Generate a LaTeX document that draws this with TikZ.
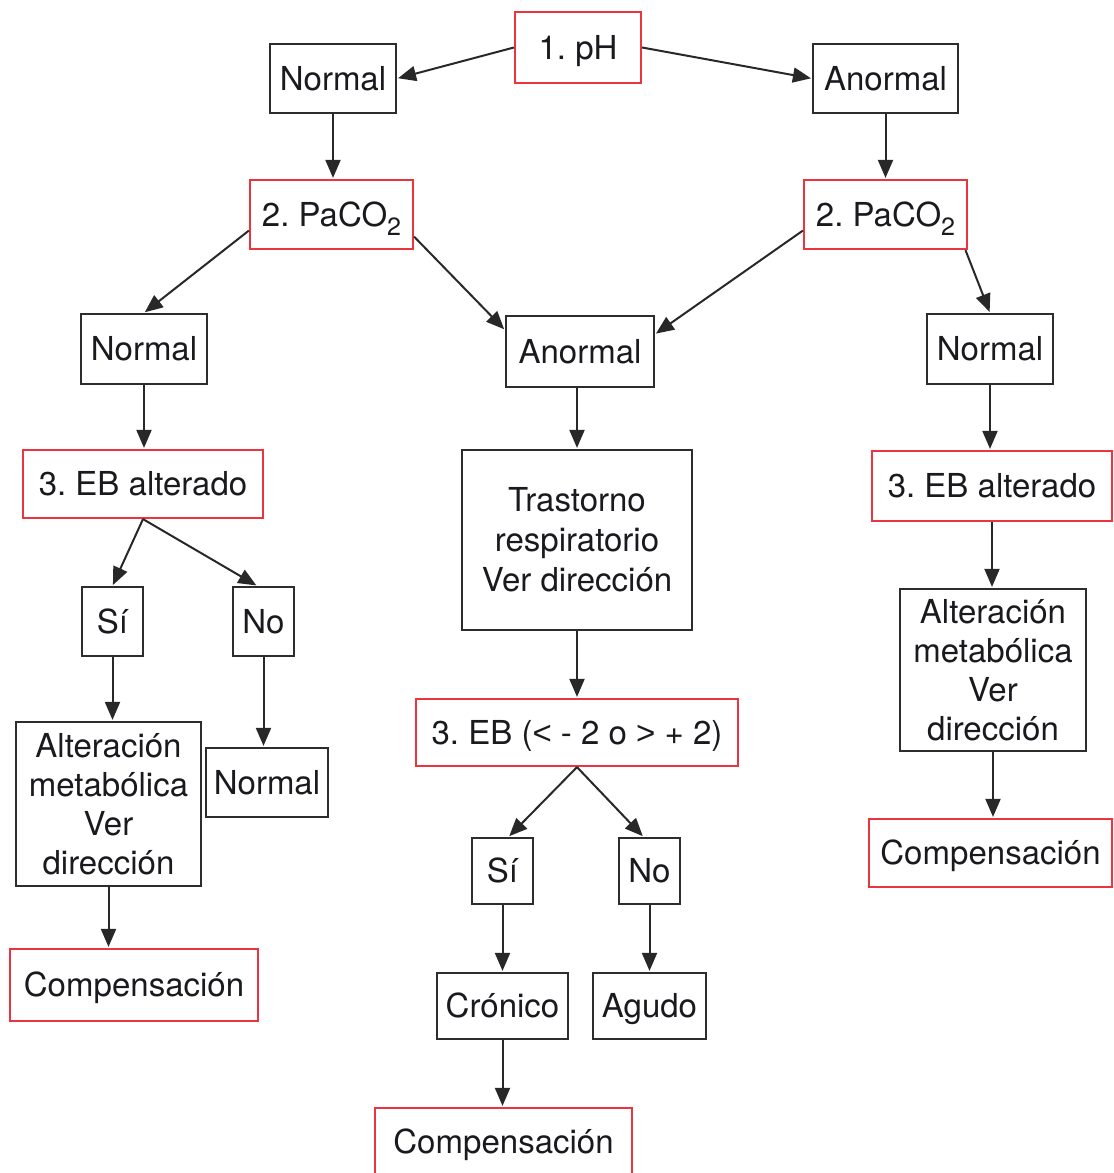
\documentclass[tikz,border=0pt]{standalone}
\usepackage{fontspec}
\setmainfont{TeX Gyre Heros}
\newfontfamily\symfont{Liberation Sans}
\usetikzlibrary{arrows.meta}
\definecolor{boxred}{RGB}{234,52,64}
\definecolor{boxgray}{RGB}{45,45,45}
\definecolor{txt}{RGB}{25,25,30}
\newcommand{\sub}[1]{\raisebox{-0.55ex}{\fontsize{12.5}{12.5}\selectfont #1}}
\frenchspacing
\tikzset{
  base/.style={rectangle, inner sep=0pt, line width=1.1pt, text=txt, align=center,
    font=\fontsize{16.5}{20}\selectfont},
  multi/.style={base, draw=boxgray},
  gbox/.style={base, draw=boxgray, text height=12.8pt, text depth=1pt},
  rbox/.style={base, draw=boxred, text height=12.8pt, text depth=1pt},
  arr/.style={draw=boxgray!90!black, line width=1pt, shorten >=0.5pt,
    -{Triangle[length=9pt,width=7.5pt]}},
}
\begin{document}
\begin{tikzpicture}[x=0.5pt,y=-0.5pt]
\useasboundingbox (0,0) rectangle (1114,1173);
% row 1
\node[rbox, minimum width=63pt, minimum height=35.5pt] (ph) at (578,47.5) {1. pH};
\node[gbox, minimum width=63pt, minimum height=34.5pt] (n1) at (333,78.5) {Normal};
\node[gbox, minimum width=72.5pt, minimum height=34.5pt] (a1) at (885.5,78.5) {Anormal};
% row 2
\node[rbox, minimum width=81.5pt, minimum height=34.5pt] (pL) at (331.5,214.5) {2. PaCO\sub{2}};
\node[rbox, minimum width=81.5pt, minimum height=34.5pt] (pR) at (885.5,214.5) {2. PaCO\sub{2}};
% row 3
\node[gbox, minimum width=63pt, minimum height=35pt] (n2L) at (144,349) {Normal};
\node[gbox, minimum width=74pt, minimum height=35.5pt] (a2) at (580,351.5) {Anormal};
\node[gbox, minimum width=63pt, minimum height=35pt] (n2R) at (990,349) {Normal};
% row 4
\node[rbox, minimum width=120pt, minimum height=34pt] (ebL) at (143,484) {3. EB alterado};
\node[multi, minimum width=115pt, minimum height=90pt] (tr) at (577,540) {Trastorno\\respiratorio\\Ver dirección};
\node[rbox, minimum width=120pt, minimum height=35pt] (ebR) at (992,486) {3. EB alterado};
% left branch
\node[gbox, minimum width=30.5pt, minimum height=34.5pt] (siL) at (112.5,621.5) {Sí};
\node[gbox, minimum width=30.5pt, minimum height=34.5pt] (noL) at (263.5,621.5) {No};
\node[multi, minimum width=92.5pt, minimum height=82pt, font=\fontsize{16.5}{19.5}\selectfont] (altL) at (108.5,804) {Alteración\\metabólica\\Ver\\dirección};
\node[gbox, minimum width=61pt, minimum height=34.5pt] (nLB) at (267,782.5) {Normal};
\node[rbox, minimum width=124pt, minimum height=36pt] (cL) at (134,985) {Compensación};
% middle branch
\node[rbox, minimum width=161pt, minimum height=33.5pt] (ebM) at (577,732.5) {3. EB ({\symfont<} - 2 o {\symfont>} + 2)};
\node[gbox, minimum width=30.5pt, minimum height=33pt] (siM) at (502.5,871) {Sí};
\node[gbox, minimum width=30.5pt, minimum height=33pt] (noM) at (649.5,871) {No};
\node[gbox, minimum width=65.5pt, minimum height=33pt] (cro) at (502.5,1006) {Crónico};
\node[gbox, minimum width=56.5pt, minimum height=33pt] (agu) at (649.5,1006) {Agudo};
\node[rbox, minimum width=128.5pt, minimum height=34pt] (cB) at (503.5,1142) {Compensación};
% right branch
\node[multi, minimum width=93pt, minimum height=81pt, font=\fontsize{16.5}{19.5}\selectfont] (altR) at (993,670) {Alteración\\metabólica\\Ver\\dirección};
\node[rbox, minimum width=121.5pt, minimum height=34pt] (cR) at (990.5,853) {Compensación};
% connectors
\draw[arr] (ph.west) -- (n1.east);
\draw[arr] (ph.east) -- (a1.west);
\draw[arr] (n1.south) -- (n1.south |- pL.north);
\draw[arr] (a1.south) -- (a1.south |- pR.north);
\draw[arr] (pL.191) -- (n2L.north);
\draw[arr] (pL.345) -- (a2.164);
\draw[arr] (pR.191) -- (a2.13);
\draw[arr] (pR.336) -- (n2R.north);
\draw[arr] (n2L.south) -- (n2L.south |- ebL.north);
\draw[arr] (tr.north |- a2.south) -- (tr.north);
\draw[arr] (n2R.south) -- (n2R.south |- ebR.north);
\draw[arr] (ebL.south) -- (siL.north);
\draw[arr] (ebL.south) -- (noL.100);
\draw[arr] (siL.south) -- (siL.south |- altL.north);
\draw[arr] (noL.south) -- (noL.south |- nLB.north);
\draw[arr] (altL.south) -- (altL.south |- cL.north);
\draw[arr] (tr.south) -- (ebM.north);
\draw[arr] (ebM.south) -- (siM.80);
\draw[arr] (ebM.south) -- (noM.100);
\draw[arr] (siM.south) -- (cro.north);
\draw[arr] (noM.south) -- (agu.north);
\draw[arr] (cro.south) -- (cro.south |- cB.north);
\draw[arr] (ebR.south) -- (ebR.south |- altR.north);
\draw[arr] (altR.south) -- (altR.south |- cR.north);
\end{tikzpicture}
\end{document}
